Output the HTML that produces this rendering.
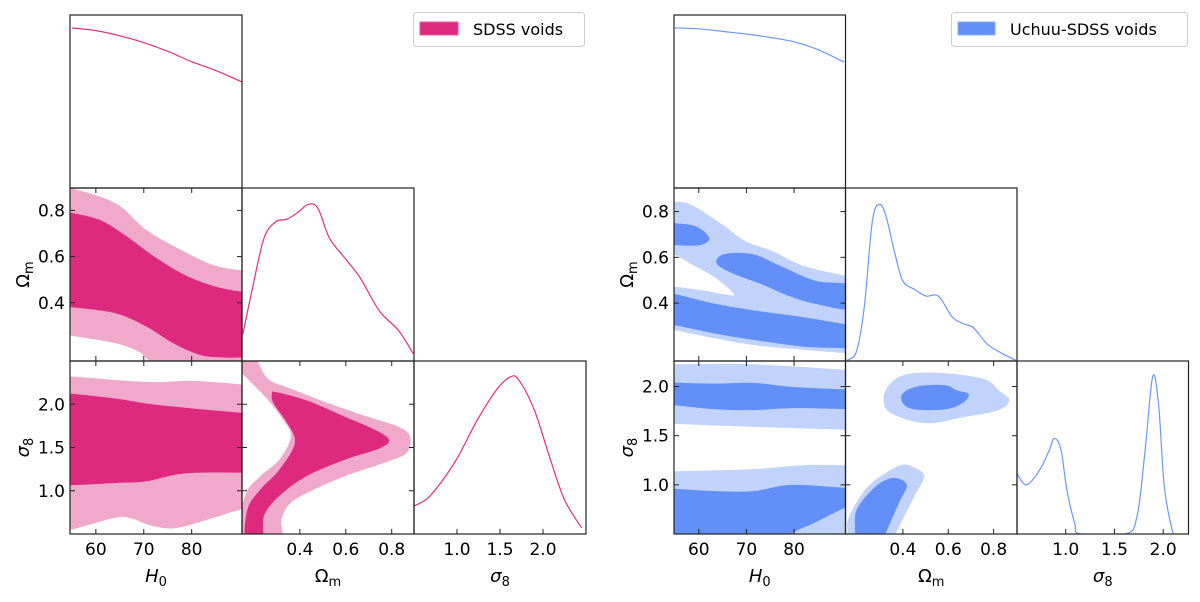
<!DOCTYPE html>
<html><head><meta charset="utf-8"><style>
html,body{margin:0;padding:0;background:#fff;}
svg text{font-family:"DejaVu Sans","Liberation Sans",sans-serif;}
</style></head><body>
<svg id="fig" width="1200" height="597" viewBox="0 0 1200 597" xmlns="http://www.w3.org/2000/svg">
<g id="legendL">
<rect x="413.5" y="12.5" width="171" height="34" rx="3" fill="#fff" stroke="#ccc"/>
<rect x="420" y="22" width="38" height="13" fill="#de2a7e" stroke="#e85a9b"/>
<text x="473" y="35" font-size="16" fill="#000">SDSS voids</text>
</g>
<g id="legendR">
<rect x="951.5" y="12.5" width="236" height="34" rx="3" fill="#fff" stroke="#ccc"/>
<rect x="958" y="22" width="37" height="13" fill="#6290f8" stroke="#8aaefa"/>
<text x="1010" y="35" font-size="16" fill="#000">Uchuu-SDSS voids</text>
</g>
</svg>
<script>
// ---------- SDSS (left) data ----------
const h0Grid_L = [55, 60, 65, 70, 75, 80, 85, 90.5];
const h0Dens_L = [0.925, 0.91, 0.88, 0.84, 0.79, 0.73, 0.68, 0.613];
const omGrid_L = [0.152, 0.194, 0.244, 0.295, 0.345, 0.395, 0.437, 0.479, 0.529, 0.596, 0.663, 0.746, 0.83, 0.894];
const omDens_L = [0.156, 0.424, 0.71, 0.805, 0.82, 0.863, 0.906, 0.882, 0.71, 0.595, 0.48, 0.29, 0.176, 0.042];
const s8Grid_L = [0.491, 0.66, 0.836, 1.013, 1.235, 1.456, 1.62, 1.72, 1.9, 2.075, 2.25, 2.45];
const s8Dens_L = [0.159, 0.207, 0.313, 0.447, 0.658, 0.831, 0.908, 0.889, 0.716, 0.447, 0.198, 0.035];
// H0-Om bands
const hoOuterUp_L = [[55.3,0.894],[64.2,0.83],[70.6,0.714],[78.6,0.62],[85,0.56],[90.7,0.54]];
const hoInnerUp_L = [[55.3,0.788],[61,0.757],[66.6,0.685],[72.2,0.6],[78.6,0.52],[85,0.47],[90.7,0.447]];
const hoInnerLo_L = [[55.3,0.38],[64.2,0.354],[70.6,0.296],[76.2,0.224],[81.8,0.174],[86.7,0.163],[90.7,0.163]];
const hoOuterLo_L = [[55.3,0.256],[64.2,0.224],[69,0.188],[72,0.14],[80,0.1],[90.7,0.1]];
// H0-s8 bands
const hsOuterUp_L = [[55.3,2.32],[64.2,2.28],[72.2,2.256],[80.2,2.27],[90.7,2.23]];
const hsInnerUp_L = [[55.3,2.12],[64.2,2.065],[70.6,2.008],[78.6,1.96],[90.7,1.90]];
const hsInnerLo_L = [[55.3,1.065],[64.2,1.09],[70.6,1.11],[78.6,1.2],[90.7,1.21]];
const hsOuterLo_L = [[55.3,0.557],[64.2,0.69],[67.4,0.68],[71.4,0.60],[76.2,0.565],[81.8,0.64],[90.7,0.79]];
// Om-s8 closed contours
const osOuter_L = [[0.12,2.62],[0.2,2.55],[0.261,2.294],[0.361,2.18],[0.529,2.008],[0.696,1.855],[0.83,1.74],[0.88,1.626],[0.864,1.435],[0.763,1.32],[0.596,1.168],[0.462,1.015],[0.361,0.863],[0.32,0.672],[0.311,0.4],[0.13,0.4],[0.161,0.94],[0.228,1.168],[0.311,1.36],[0.361,1.626],[0.328,1.817],[0.261,2.05],[0.17,2.3],[0.12,2.45]];
const osInner_L = [[0.278,2.12],[0.295,2.14],[0.428,2.046],[0.596,1.855],[0.73,1.70],[0.788,1.588],[0.747,1.49],[0.596,1.359],[0.428,1.168],[0.311,0.94],[0.244,0.71],[0.236,0.4],[0.164,0.4],[0.172,0.786],[0.228,1.015],[0.311,1.244],[0.378,1.55],[0.345,1.78],[0.286,2.008]];

// ---------- Uchuu (right) data ----------
const h0Grid_R = [55, 60, 65, 70, 75, 80, 85, 90.5];
const h0Dens_R = [0.925, 0.92, 0.905, 0.89, 0.87, 0.845, 0.80, 0.728];
const omGrid_R = [0.155, 0.197, 0.231, 0.265, 0.295, 0.324, 0.366, 0.4, 0.451, 0.501, 0.543, 0.569, 0.619, 0.67, 0.712, 0.771, 0.839, 0.898];
const omDens_R = [0.004, 0.061, 0.328, 0.805, 0.905, 0.844, 0.614, 0.462, 0.414, 0.376, 0.382, 0.357, 0.252, 0.214, 0.191, 0.099, 0.042, 0.004];
const s8Grid_R = [0.484, 0.592, 0.732, 0.832, 0.884, 0.952, 1.012, 1.092, 1.152, 1.612, 1.732, 1.812, 1.892, 1.952, 2.012, 2.092, 2.13];
const s8Dens_R = [0.37, 0.284, 0.37, 0.486, 0.553, 0.486, 0.255, 0.063, 0, 0, 0.102, 0.466, 0.908, 0.754, 0.274, 0.025, 0];
// H0-Om
const hoLightUp_R = [[54.9,0.843],[58.5,0.829],[65,0.742],[69.8,0.67],[75.5,0.627],[81.9,0.563],[90.8,0.52]];
const hoLightLo_R = [[54.9,0.282],[63.4,0.246],[71.5,0.217],[81.9,0.196],[90.8,0.181]];
const hoHole_R = [[52,0.63],[54.9,0.613],[58.5,0.57],[63.4,0.512],[67.4,0.44],[65.8,0.437],[61,0.455],[54.9,0.472],[52,0.475]];
const hoBlob1_R = [[52,0.76],[54.9,0.75],[59.4,0.735],[62.2,0.685],[60.2,0.653],[54.9,0.653],[52,0.653]];
const hoBlob2_R = [[65.8,0.616],[71.5,0.613],[77.1,0.563],[84.4,0.498],[92,0.476],[92,0.376],[84.4,0.397],[78.7,0.433],[73.1,0.483],[67.4,0.527],[64.2,0.563],[63.8,0.591]];
const hoBandUp_R = [[54.9,0.44],[63.4,0.397],[71.5,0.368],[81.9,0.339],[90.8,0.308]];
const hoBandLo_R = [[54.9,0.303],[63.4,0.267],[71.5,0.239],[81.9,0.21],[90.8,0.203]];
// H0-s8
const hsUpLightTop_R = [[54.9,2.226],[71.5,2.226],[90.8,2.17]];
const hsUpLightBot_R = [[54.9,1.62],[71.5,1.59],[90.8,1.56]];
const hsUpDarkTop_R = [[54.9,2.04],[63.4,2.03],[71.5,2.037],[79.5,1.997],[90.8,1.97]];
const hsUpDarkBot_R = [[54.9,1.81],[63.4,1.77],[71.5,1.76],[79.5,1.78],[90.8,1.77]];
const hsLoLightTop_R = [[54.9,1.138],[71.5,1.16],[81.9,1.2],[90.8,1.2]];
const hsLoLightBot_R = [[54.9,0.3],[90.8,0.3]];
const hsLoDarkTop_R = [[54.9,0.96],[63.4,0.936],[71.5,0.936],[79.5,1.0],[90.8,0.97]];
const hsLoDarkBot_R = [[54.9,0.3],[76,0.3],[79.5,0.5],[84.4,0.616],[90.8,0.77]];
// Om-s8
const osUpLight_R = [[0.324,1.963],[0.4,2.114],[0.552,2.141],[0.754,2.08],[0.822,1.963],[0.869,1.862],[0.822,1.76],[0.67,1.69],[0.518,1.626],[0.4,1.677],[0.324,1.778]];
const osUpDark_R = [[0.4,1.93],[0.468,2.003],[0.586,2.013],[0.636,1.963],[0.69,1.923],[0.662,1.83],[0.586,1.768],[0.451,1.768],[0.4,1.83]];
const osLoLight_R = [[0.155,0.4],[0.155,0.515],[0.164,0.684],[0.248,0.987],[0.383,1.195],[0.451,1.172],[0.493,1.088],[0.451,0.886],[0.366,0.5],[0.34,0.4]];
const osLoDark_R = [[0.185,0.4],[0.189,0.515],[0.197,0.75],[0.282,0.987],[0.358,1.07],[0.417,1.0],[0.383,0.818],[0.324,0.505],[0.31,0.4]];

const h0Ticks = [60, 70, 80];
const omTicks = [0.4, 0.6, 0.8];
const s8Ticks = [1.0, 1.5, 2.0];
const h0TickLabels = ['60', '70', '80'];
const omTickLabels = ['0.4', '0.6', '0.8'];
const s8TickLabels = ['1.0', '1.5', '2.0'];

const NS = 'http://www.w3.org/2000/svg';
const svg = document.getElementById('fig');
function mk(tag, parent) { const e = document.createElementNS(NS, tag); parent.appendChild(e); return e; }

function smoothOpen(pts) {
  let d = '';
  for (let i = 0; i < pts.length - 1; i++) {
    const p0 = pts[Math.max(0, i - 1)], p1 = pts[i], p2 = pts[i + 1], p3 = pts[Math.min(pts.length - 1, i + 2)];
    const c1 = [p1[0] + (p2[0] - p0[0]) / 6, p1[1] + (p2[1] - p0[1]) / 6];
    const c2 = [p2[0] - (p3[0] - p1[0]) / 6, p2[1] - (p3[1] - p1[1]) / 6];
    d += ' C' + c1[0].toFixed(1) + ',' + c1[1].toFixed(1) + ' ' + c2[0].toFixed(1) + ',' + c2[1].toFixed(1) + ' ' + p2[0].toFixed(1) + ',' + p2[1].toFixed(1);
  }
  return d;
}
function smoothClosed(pts) {
  const n = pts.length; let d = 'M' + pts[0][0].toFixed(1) + ',' + pts[0][1].toFixed(1);
  for (let i = 0; i < n; i++) {
    const p0 = pts[(i - 1 + n) % n], p1 = pts[i], p2 = pts[(i + 1) % n], p3 = pts[(i + 2) % n];
    const c1 = [p1[0] + (p2[0] - p0[0]) / 6, p1[1] + (p2[1] - p0[1]) / 6];
    const c2 = [p2[0] - (p3[0] - p1[0]) / 6, p2[1] - (p3[1] - p1[1]) / 6];
    d += ' C' + c1[0].toFixed(1) + ',' + c1[1].toFixed(1) + ' ' + c2[0].toFixed(1) + ',' + c2[1].toFixed(1) + ' ' + p2[0].toFixed(1) + ',' + p2[1].toFixed(1);
  }
  return d + 'Z';
}
function bandD(up, lo) {
  const u = up.slice(); u.unshift([u[0][0] - 8, u[0][1]]); u.push([u[u.length - 1][0] + 8, u[u.length - 1][1]]);
  const l = lo.slice(); l.unshift([l[0][0] - 8, l[0][1]]); l.push([l[l.length - 1][0] + 8, l[l.length - 1][1]]);
  const lr = l.reverse();
  return 'M' + u[0][0] + ',' + u[0][1] + smoothOpen(u) + ' L' + lr[0][0] + ',' + lr[0][1] + smoothOpen(lr) + 'Z';
}

function buildTriangle(cfg) {
  const { x0, cw, y0, rh, tag, ranges, dark, light, line } = cfg;
  const params = ['h0', 'om', 's8'];
  const ticks = { h0: h0Ticks, om: omTicks, s8: s8Ticks };
  const labels = { h0: h0TickLabels, om: omTickLabels, s8: s8TickLabels };
  function sx(p, col, v) { const r = ranges[p]; return x0 + col * cw + (v - r[0]) / (r[1] - r[0]) * cw; }
  function sy(p, row, v) { const r = ranges[p]; return y0 + (row + 1) * rh - (v - r[0]) / (r[1] - r[0]) * rh; }
  const g = mk('g', svg);
  
  
  const defs = mk('defs', g);
  function panel(row, col, name) {
    const cp = mk('clipPath', defs); const id = 'clip-' + tag + '-' + row + col; cp.setAttribute('id', id);
    const r = mk('rect', cp); r.setAttribute('x', x0 + col * cw); r.setAttribute('y', y0 + row * rh); r.setAttribute('width', cw); r.setAttribute('height', rh);
    const pg = mk('g', g); pg.setAttribute('clip-path', 'url(#' + id + ')');
    
    
    return pg;
  }
  function fillPath(pg, d, color, name) {
    const p = mk('path', pg); p.setAttribute('d', d); p.setAttribute('fill', color);
    
    
    return p;
  }
  cfg.oneD.forEach((o, i) => {
    const pg = panel(i, i, 'marginal-' + params[i] + '-' + tag);
    const pts = o.grid.map((v, k) => [sx(params[i], i, v), y0 + (i + 1) * rh - o.dens[k] * rh]);
    const p = mk('path', pg); p.setAttribute('d', 'M' + pts[0][0] + ',' + pts[0][1] + smoothOpen(pts));
    p.setAttribute('fill', 'none'); p.setAttribute('stroke', line); p.setAttribute('stroke-width', '1.2');
    
    
  });
  cfg.twoD.forEach(t => {
    const pg = panel(t.row, t.col, 'contour-' + params[t.col] + '-' + params[t.row] + '-' + tag);
    const px = ([a, b]) => [sx(params[t.col], t.col, a), sy(params[t.row], t.row, b)];
    t.layers.forEach(L => {
      let d;
      if (L.type === 'band') d = bandD(L.up.map(px), L.lo.map(px));
      else d = smoothClosed(L.pts.map(px));
      fillPath(pg, d, L.c === 'd' ? dark : (L.c === 'l' ? light : '#fff'), L.name);
    });
  });
  const cells = [[0, 0], [1, 0], [1, 1], [2, 0], [2, 1], [2, 2]];
  cells.forEach(([row, col]) => {
    const X = x0 + col * cw, Y = y0 + row * rh;
    const r = mk('rect', g); r.setAttribute('x', X); r.setAttribute('y', Y); r.setAttribute('width', cw); r.setAttribute('height', rh);
    r.setAttribute('fill', 'none'); r.setAttribute('stroke', '#222'); r.setAttribute('stroke-width', '1.2');
    
    
    const is2D = row !== col;
    const tk = [];
    if (is2D || row === 2) ticks[params[col]].forEach(v => { const x = sx(params[col], col, v); tk.push([x, Y + rh, x, Y + rh - 5]); if (is2D) tk.push([x, Y, x, Y + 5]); });
    if (is2D) ticks[params[row]].forEach(v => { const y = sy(params[row], row, v); tk.push([X, y, X + 5, y]); tk.push([X + cw, y, X + cw - 5, y]); });
    tk.forEach(a => { const l = mk('line', g); l.setAttribute('x1', a[0]); l.setAttribute('y1', a[1]); l.setAttribute('x2', a[2]); l.setAttribute('y2', a[3]); l.setAttribute('stroke', '#222'); l.setAttribute('stroke-width', '1');
      
       });
  });
  params.forEach((p, col) => {
    ticks[p].forEach((v, k) => {
      const t = mk('text', g); t.setAttribute('x', sx(p, col, v)); t.setAttribute('y', y0 + 3 * rh + 21); t.setAttribute('text-anchor', 'middle'); t.setAttribute('font-size', '17'); t.textContent = labels[p][k];
      
      
    });
  });
  [['om', 1], ['s8', 2]].forEach(([p, row]) => {
    ticks[p].forEach((v, k) => {
      const t = mk('text', g); t.setAttribute('x', x0 - 5); t.setAttribute('y', sy(p, row, v) + 6); t.setAttribute('text-anchor', 'end'); t.setAttribute('font-size', '17'); t.textContent = labels[p][k];
      
      
    });
  });
  const titles = [['H', '0', 'italic'], ['Ω', 'm', 'normal'], ['σ', '8', 'italic']];
  titles.forEach((tt, col) => {
    const t = mk('text', g); t.setAttribute('x', x0 + col * cw + cw / 2); t.setAttribute('y', y0 + 3 * rh + 48); t.setAttribute('text-anchor', 'middle'); t.setAttribute('font-size', '18');
    
    
    const a = mk('tspan', t); a.setAttribute('font-style', tt[2]); a.textContent = tt[0];
    const b = mk('tspan', t); b.setAttribute('font-size', '13'); b.setAttribute('dy', '4'); b.textContent = tt[1];
  });
  [[1, 'Ω', 'm', 'normal', 'om'], [2, 'σ', '8', 'italic', 's8']].forEach(([row, m, s, st, p]) => {
    const cy = y0 + row * rh + rh / 2, cx = x0 - 41;
    const t = mk('text', g); t.setAttribute('x', cx); t.setAttribute('y', cy); t.setAttribute('text-anchor', 'middle'); t.setAttribute('font-size', '18');
    t.setAttribute('transform', 'rotate(-90 ' + cx + ' ' + cy + ')');
    
    
    const a = mk('tspan', t); a.setAttribute('font-style', st); a.textContent = m;
    const b = mk('tspan', t); b.setAttribute('font-size', '13'); b.setAttribute('dy', '4'); b.textContent = s;
  });
}

buildTriangle({
  tag: 'sdss', x0: 70, cw: 172, y0: 15, rh: 173,
  ranges: { h0: [54.6, 90.5], om: [0.148, 0.897], s8: [0.5, 2.5] },
  dark: '#de2a7e', light: '#f0a9cb', line: '#e0307f',
  oneD: [{ grid: h0Grid_L, dens: h0Dens_L }, { grid: omGrid_L, dens: omDens_L }, { grid: s8Grid_L, dens: s8Dens_L }],
  twoD: [
    { row: 1, col: 0, layers: [
      { type: 'band', up: hoOuterUp_L, lo: hoOuterLo_L, c: 'l', name: 'contour-95' },
      { type: 'band', up: hoInnerUp_L, lo: hoInnerLo_L, c: 'd', name: 'contour-68' }] },
    { row: 2, col: 0, layers: [
      { type: 'band', up: hsOuterUp_L, lo: hsOuterLo_L, c: 'l', name: 'contour-95' },
      { type: 'band', up: hsInnerUp_L, lo: hsInnerLo_L, c: 'd', name: 'contour-68' }] },
    { row: 2, col: 1, layers: [
      { type: 'closed', pts: osOuter_L, c: 'l', name: 'contour-95' },
      { type: 'closed', pts: osInner_L, c: 'd', name: 'contour-68' }] }
  ]
});
buildTriangle({
  tag: 'uchuu', x0: 674, cw: 171.5, y0: 15, rh: 173,
  ranges: { h0: [54.8, 90.8], om: [0.147, 0.903], s8: [0.5, 2.26] },
  dark: '#6290f8', light: '#c1d3fb', line: '#6d97f5',
  oneD: [{ grid: h0Grid_R, dens: h0Dens_R }, { grid: omGrid_R, dens: omDens_R }, { grid: s8Grid_R, dens: s8Dens_R }],
  twoD: [
    { row: 1, col: 0, layers: [
      { type: 'band', up: hoLightUp_R, lo: hoLightLo_R, c: 'l', name: 'contour-95' },
      { type: 'closed', pts: hoHole_R, c: 'w', name: 'contour-gap' },
      { type: 'closed', pts: hoBlob1_R, c: 'd', name: 'contour-68-a' },
      { type: 'closed', pts: hoBlob2_R, c: 'd', name: 'contour-68-b' },
      { type: 'band', up: hoBandUp_R, lo: hoBandLo_R, c: 'd', name: 'contour-68-c' }] },
    { row: 2, col: 0, layers: [
      { type: 'band', up: hsUpLightTop_R, lo: hsUpLightBot_R, c: 'l', name: 'contour-95-upper' },
      { type: 'band', up: hsUpDarkTop_R, lo: hsUpDarkBot_R, c: 'd', name: 'contour-68-upper' },
      { type: 'band', up: hsLoLightTop_R, lo: hsLoLightBot_R, c: 'l', name: 'contour-95-lower' },
      { type: 'band', up: hsLoDarkTop_R, lo: hsLoDarkBot_R, c: 'd', name: 'contour-68-lower' }] },
    { row: 2, col: 1, layers: [
      { type: 'closed', pts: osUpLight_R, c: 'l', name: 'contour-95-upper' },
      { type: 'closed', pts: osUpDark_R, c: 'd', name: 'contour-68-upper' },
      { type: 'closed', pts: osLoLight_R, c: 'l', name: 'contour-95-lower' },
      { type: 'closed', pts: osLoDark_R, c: 'd', name: 'contour-68-lower' }] }
  ]
});
svg.appendChild(document.getElementById('legendL'));
svg.appendChild(document.getElementById('legendR'));
</script>
</body></html>
